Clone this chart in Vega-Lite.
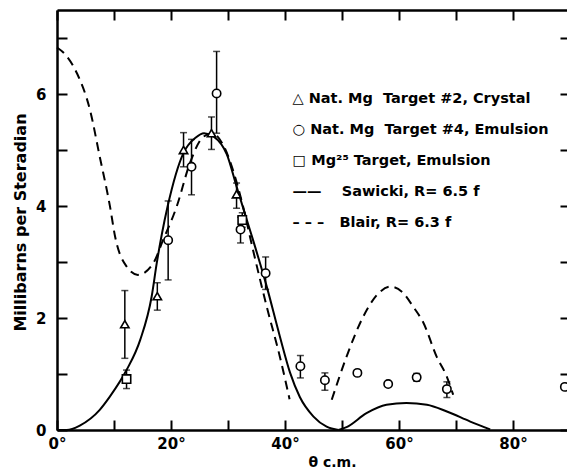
{
  "$schema": "https://vega.github.io/schema/vega-lite/v6.json",
  "width": 513,
  "height": 420,
  "autosize": {"type": "none"},
  "padding": {"left": 57, "top": 10, "right": 0, "bottom": 43},
  "background": "white",
  "config": {
    "view": {"stroke": null},
    "font": "DejaVu Sans",
    "axis": {
      "grid": false,
      "domainColor": "black",
      "domainWidth": 2.5,
      "tickColor": "black",
      "tickWidth": 2,
      "tickSize": -10,
      "labelColor": "black",
      "labelFont": "DejaVu Sans",
      "labelFontWeight": "bold",
      "labelFontSize": 15,
      "labelOverlap": false,
      "labelFlush": false,
      "titleColor": "black",
      "titleFont": "DejaVu Sans",
      "titleFontWeight": "bold"
    }
  },
  "datasets": {
    "curves": [
      {"curve": "Sawicki", "seg": "a", "x": 0, "y": 0},
      {"curve": "Sawicki", "seg": "a", "x": 1.7, "y": 0},
      {"curve": "Sawicki", "seg": "a", "x": 4, "y": 0.08},
      {"curve": "Sawicki", "seg": "a", "x": 7.5, "y": 0.36},
      {"curve": "Sawicki", "seg": "a", "x": 9.3, "y": 0.6},
      {"curve": "Sawicki", "seg": "a", "x": 12.2, "y": 1.07},
      {"curve": "Sawicki", "seg": "a", "x": 14.6, "y": 1.61},
      {"curve": "Sawicki", "seg": "a", "x": 16.6, "y": 2.38},
      {"curve": "Sawicki", "seg": "a", "x": 17.5, "y": 2.98},
      {"curve": "Sawicki", "seg": "a", "x": 18.4, "y": 3.5},
      {"curve": "Sawicki", "seg": "a", "x": 19.4, "y": 3.99},
      {"curve": "Sawicki", "seg": "a", "x": 22.2, "y": 4.95},
      {"curve": "Sawicki", "seg": "a", "x": 24.3, "y": 5.22},
      {"curve": "Sawicki", "seg": "a", "x": 25.8, "y": 5.3},
      {"curve": "Sawicki", "seg": "a", "x": 27.5, "y": 5.24},
      {"curve": "Sawicki", "seg": "a", "x": 29.8, "y": 4.92},
      {"curve": "Sawicki", "seg": "a", "x": 31.5, "y": 4.35},
      {"curve": "Sawicki", "seg": "a", "x": 33.0, "y": 3.85},
      {"curve": "Sawicki", "seg": "a", "x": 34.4, "y": 3.39},
      {"curve": "Sawicki", "seg": "a", "x": 36.8, "y": 2.56},
      {"curve": "Sawicki", "seg": "a", "x": 39.1, "y": 1.67},
      {"curve": "Sawicki", "seg": "a", "x": 40.9, "y": 1.02},
      {"curve": "Sawicki", "seg": "a", "x": 42.6, "y": 0.59},
      {"curve": "Sawicki", "seg": "a", "x": 45.0, "y": 0.24},
      {"curve": "Sawicki", "seg": "a", "x": 47.3, "y": 0.06},
      {"curve": "Sawicki", "seg": "a", "x": 49.4, "y": 0},
      {"curve": "Sawicki", "seg": "b", "x": 49.4, "y": 0},
      {"curve": "Sawicki", "seg": "b", "x": 50.8, "y": 0.05},
      {"curve": "Sawicki", "seg": "b", "x": 54.3, "y": 0.3},
      {"curve": "Sawicki", "seg": "b", "x": 57.8, "y": 0.45},
      {"curve": "Sawicki", "seg": "b", "x": 61.3, "y": 0.48},
      {"curve": "Sawicki", "seg": "b", "x": 64.9, "y": 0.45},
      {"curve": "Sawicki", "seg": "b", "x": 68.4, "y": 0.33},
      {"curve": "Sawicki", "seg": "b", "x": 72.5, "y": 0.15},
      {"curve": "Sawicki", "seg": "b", "x": 76.0, "y": 0.01},
      {"curve": "Blair", "seg": "a", "x": 0, "y": 6.83},
      {"curve": "Blair", "seg": "a", "x": 1.5, "y": 6.7},
      {"curve": "Blair", "seg": "a", "x": 3.5, "y": 6.37},
      {"curve": "Blair", "seg": "a", "x": 5.8, "y": 5.71},
      {"curve": "Blair", "seg": "a", "x": 7.5, "y": 4.88},
      {"curve": "Blair", "seg": "a", "x": 9.3, "y": 3.99},
      {"curve": "Blair", "seg": "a", "x": 10.2, "y": 3.45},
      {"curve": "Blair", "seg": "a", "x": 12.2, "y": 2.92},
      {"curve": "Blair", "seg": "a", "x": 14.2, "y": 2.77},
      {"curve": "Blair", "seg": "a", "x": 16.9, "y": 2.98},
      {"curve": "Blair", "seg": "a", "x": 18.6, "y": 3.39},
      {"curve": "Blair", "seg": "a", "x": 21.0, "y": 3.99},
      {"curve": "Blair", "seg": "a", "x": 23.3, "y": 4.76},
      {"curve": "Blair", "seg": "a", "x": 25.5, "y": 5.22},
      {"curve": "Blair", "seg": "a", "x": 27.2, "y": 5.3},
      {"curve": "Blair", "seg": "a", "x": 29.2, "y": 5.08},
      {"curve": "Blair", "seg": "a", "x": 31.0, "y": 4.6},
      {"curve": "Blair", "seg": "a", "x": 32.5, "y": 4.05},
      {"curve": "Blair", "seg": "a", "x": 34.4, "y": 3.21},
      {"curve": "Blair", "seg": "a", "x": 36.8, "y": 2.2},
      {"curve": "Blair", "seg": "a", "x": 39.1, "y": 1.31},
      {"curve": "Blair", "seg": "a", "x": 40.8, "y": 0.55},
      {"curve": "Blair", "seg": "b", "x": 48.2, "y": 0.54},
      {"curve": "Blair", "seg": "b", "x": 50.8, "y": 1.31},
      {"curve": "Blair", "seg": "b", "x": 53.7, "y": 2.02},
      {"curve": "Blair", "seg": "b", "x": 56.7, "y": 2.47},
      {"curve": "Blair", "seg": "b", "x": 58.5, "y": 2.56},
      {"curve": "Blair", "seg": "b", "x": 60.5, "y": 2.47},
      {"curve": "Blair", "seg": "b", "x": 62.5, "y": 2.2},
      {"curve": "Blair", "seg": "b", "x": 64.3, "y": 1.91},
      {"curve": "Blair", "seg": "b", "x": 66.6, "y": 1.31},
      {"curve": "Blair", "seg": "b", "x": 68.4, "y": 0.95},
      {"curve": "Blair", "seg": "b", "x": 69.5, "y": 0.63}
    ],
    "points": [
      {"set": "Nat. Mg\u00a0 Target #2, Crystal", "x": 11.9, "y": 1.89, "lo": 1.28, "hi": 2.49},
      {"set": "Nat. Mg\u00a0 Target #2, Crystal", "x": 17.6, "y": 2.39, "lo": 2.14, "hi": 2.63},
      {"set": "Nat. Mg\u00a0 Target #2, Crystal", "x": 22.2, "y": 5.0, "lo": 4.7, "hi": 5.31},
      {"set": "Nat. Mg\u00a0 Target #2, Crystal", "x": 27.1, "y": 5.3, "lo": 5.01, "hi": 5.59},
      {"set": "Nat. Mg\u00a0 Target #2, Crystal", "x": 31.5, "y": 4.21, "lo": 3.96, "hi": 4.41},
      {"set": "Nat. Mg\u00a0 Target #4, Emulsion", "x": 19.5, "y": 3.39, "lo": 2.68, "hi": 4.09},
      {"set": "Nat. Mg\u00a0 Target #4, Emulsion", "x": 23.6, "y": 4.7, "lo": 4.2, "hi": 5.19},
      {"set": "Nat. Mg\u00a0 Target #4, Emulsion", "x": 28.0, "y": 6.01, "lo": 5.3, "hi": 6.76},
      {"set": "Nat. Mg\u00a0 Target #4, Emulsion", "x": 32.2, "y": 3.58, "lo": 3.34, "hi": 3.8},
      {"set": "Nat. Mg\u00a0 Target #4, Emulsion", "x": 36.6, "y": 2.8, "lo": 2.51, "hi": 3.09},
      {"set": "Nat. Mg\u00a0 Target #4, Emulsion", "x": 42.7, "y": 1.14, "lo": 0.93, "hi": 1.33},
      {"set": "Nat. Mg\u00a0 Target #4, Emulsion", "x": 47.0, "y": 0.89, "lo": 0.71, "hi": 1.02},
      {"set": "Nat. Mg\u00a0 Target #4, Emulsion", "x": 52.7, "y": 1.02},
      {"set": "Nat. Mg\u00a0 Target #4, Emulsion", "x": 58.1, "y": 0.82},
      {"set": "Nat. Mg\u00a0 Target #4, Emulsion", "x": 63.1, "y": 0.94, "lo": 0.87, "hi": 1.01},
      {"set": "Nat. Mg\u00a0 Target #4, Emulsion", "x": 68.4, "y": 0.73, "lo": 0.58, "hi": 0.86},
      {"set": "Nat. Mg\u00a0 Target #4, Emulsion", "x": 89.1, "y": 0.77},
      {"set": "Mg²⁵ Target, Emulsion", "x": 12.2, "y": 0.91, "lo": 0.74, "hi": 1.07},
      {"set": "Mg²⁵ Target, Emulsion", "x": 32.5, "y": 3.75, "lo": 3.62, "hi": 3.88}
    ]
  },
  "resolve": {"axis": {"x": "independent", "y": "independent"}},
  "layer": [
    {
      "data": {"name": "curves"},
      "transform": [{"filter": "datum.curve == 'Sawicki'"}],
      "mark": {"type": "line", "color": "black", "strokeWidth": 2, "interpolate": "monotone"},
      "encoding": {
        "x": {
          "field": "x", "type": "quantitative",
          "scale": {"domain": [0, 90], "nice": false, "zero": false},
          "axis": {
            "orient": "bottom",
            "values": [0, 10, 20, 30, 40, 50, 60, 70, 80, 90],
            "labelExpr": "datum.value % 20 == 0 ? datum.value + '°' : ''",
            "labelPadding": 16,
            "labelDx": 5,
            "title": "θ c.m.",
            "titleFontSize": 14,
            "titleX": 275,
            "titleY": 36,
            "titleBaseline": "alphabetic"
          }
        },
        "y": {
          "field": "y", "type": "quantitative",
          "scale": {"domain": [0, 7.5], "nice": false},
          "axis": {
            "orient": "left",
            "values": [0, 1, 2, 3, 4, 5, 6, 7],
            "labelExpr": "datum.value % 2 == 0 ? datum.value : ''",
            "labelPadding": 21,
            "title": "Millibarns per Steradian",
            "titleFontSize": 16,
            "titleX": -37,
            "titleY": 212,
            "titleAngle": 270,
            "titleAlign": "center",
            "titleBaseline": "middle"
          }
        },
        "detail": {"field": "seg"}
      }
    },
    {
      "data": {"name": "curves"},
      "transform": [{"filter": "datum.curve == 'Blair'"}],
      "mark": {"type": "line", "color": "black", "strokeWidth": 2, "strokeDash": [9, 6], "interpolate": "monotone"},
      "encoding": {
        "x": {
          "field": "x", "type": "quantitative",
          "axis": {
            "orient": "top",
            "values": [0, 10, 20, 30, 40, 50, 60, 70, 80, 90],
            "labels": false,
            "title": null
          }
        },
        "y": {
          "field": "y", "type": "quantitative",
          "axis": {
            "orient": "right",
            "values": [0, 1, 2, 3, 4, 5, 6, 7],
            "labels": false,
            "title": null
          }
        },
        "detail": {"field": "seg"}
      }
    },
    {
      "data": {"name": "points"},
      "transform": [{"filter": "isValid(datum.lo)"}],
      "mark": {"type": "errorbar", "color": "black", "ticks": {"size": 7, "thickness": 1.5}, "rule": {"strokeWidth": 1.5}},
      "encoding": {
        "x": {"field": "x", "type": "quantitative", "axis": null},
        "y": {"field": "lo", "type": "quantitative", "axis": null},
        "y2": {"field": "hi"}
      }
    },
    {
      "data": {"name": "points"},
      "mark": {"type": "point", "filled": false, "fill": "white", "stroke": "black", "strokeWidth": 1.6, "size": 70, "opacity": 1},
      "encoding": {
        "x": {"field": "x", "type": "quantitative", "axis": null},
        "y": {"field": "y", "type": "quantitative", "axis": null},
        "shape": {
          "field": "set", "type": "nominal",
          "scale": {
            "domain": [
              "Nat. Mg\u00a0 Target #2, Crystal",
              "Nat. Mg\u00a0 Target #4, Emulsion",
              "Mg²⁵ Target, Emulsion",
              "Sawicki, R= 6.5 f",
              "Blair, R= 6.3 f"
            ],
            "range": ["triangle-up", "circle", "square", "stroke", "stroke"]
          },
          "legend": {
            "title": null,
            "orient": "none",
            "legendX": 221,
            "legendY": 82,
            "padding": 0,
            "symbolSize": 0,
            "symbolStrokeWidth": 0,
            "symbolOpacity": 0,
            "labelFont": "DejaVu Sans",
            "labelFontWeight": "bold",
            "labelFontSize": 14.5,
            "labelColor": "black",
            "labelOffset": 0,
            "labelLimit": 400,
            "rowPadding": 16,
            "labelExpr": "(indexof(datum.label, '#2') >= 0 ? '△ ' : indexof(datum.label, '#4') >= 0 ? '○ ' : indexof(datum.label, 'Mg²⁵') >= 0 ? '□ ' : indexof(datum.label, 'Sawicki') >= 0 ? '——\u00a0\u00a0\u00a0\u00a0' : '– – –\u00a0\u00a0\u00a0') + datum.label"
          }
        }
      }
    }
  ]
}
